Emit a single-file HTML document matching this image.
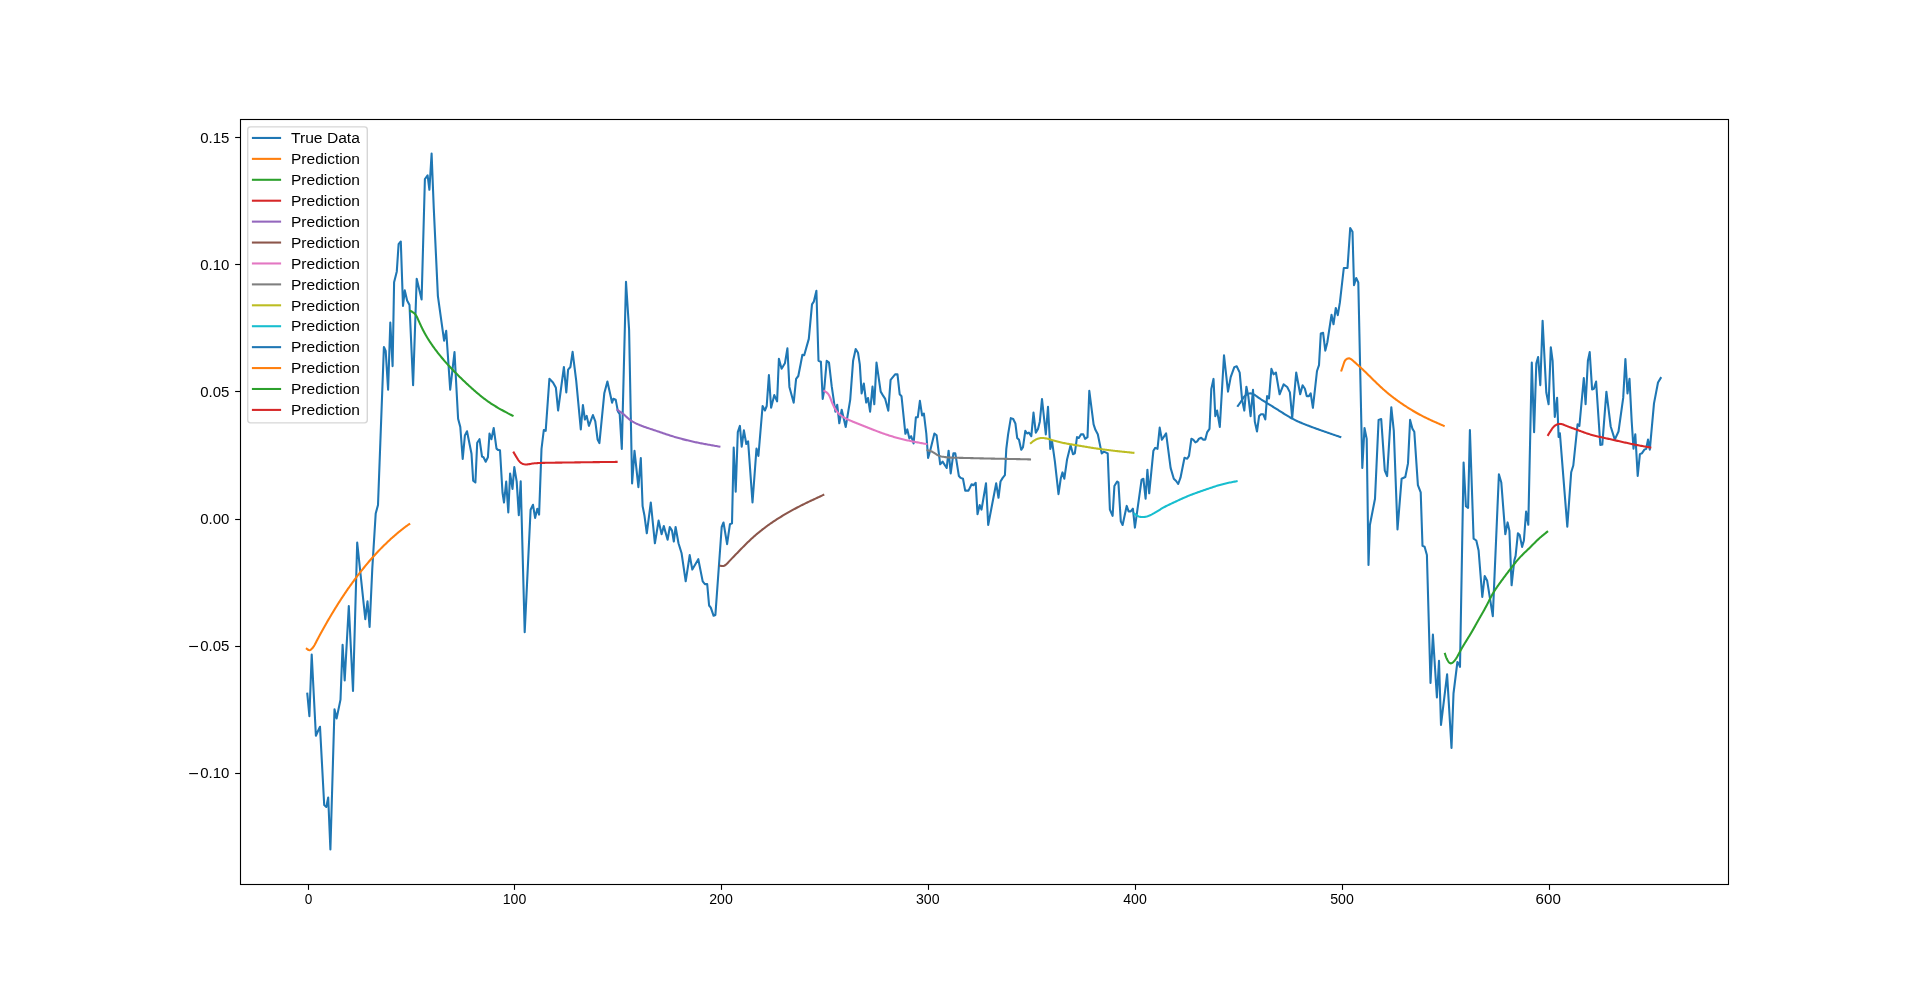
<!DOCTYPE html>
<html><head><meta charset="utf-8"><style>
html,body{margin:0;padding:0;background:#fff;width:1920px;height:993px;overflow:hidden}
svg{display:block}
.t{font-family:"Liberation Sans",sans-serif;font-size:14px;fill:#000}
svg{will-change:transform}
</style></head><body>
<svg width="1920" height="993" viewBox="0 0 1920 993"><rect x="0" y="0" width="1920" height="993" fill="#ffffff"/><defs><clipPath id="ax"><rect x="240" y="119.16" width="1488" height="764.6"/></clipPath></defs><g clip-path="url(#ax)" fill="none" stroke-linejoin="round" stroke-linecap="square"><path d="M307.30,693.70 L309.40,716.10 L311.70,654.50 L315.90,735.80 L318.00,731.00 L320.00,726.80 L324.20,805.00 L326.30,807.00 L328.20,797.50 L330.40,849.50 L334.50,709.30 L336.60,718.50 L340.50,699.60 L342.60,644.80 L344.70,680.50 L348.80,606.00 L353.00,691.00 L357.20,542.50 L365.30,619.20 L367.50,601.30 L369.60,627.00 L372.30,568.50 L375.70,513.50 L378.00,505.00 L383.90,347.00 L385.70,351.00 L388.10,389.70 L390.30,322.60 L392.60,366.10 L394.10,282.30 L396.80,271.40 L398.60,244.20 L400.80,241.50 L403.00,305.90 L404.80,290.40 L407.10,300.40 L409.50,305.00 L413.10,385.10 L416.70,278.70 L421.60,299.50 L424.90,179.00 L427.60,175.30 L429.40,189.80 L431.60,153.60 L433.80,208.90 L437.90,296.10 L444.10,340.70 L446.20,330.80 L450.20,389.70 L454.50,352.10 L458.10,418.70 L460.30,427.00 L462.70,459.00 L464.90,435.40 L467.00,431.30 L471.50,453.80 L473.20,480.70 L475.40,482.50 L477.20,442.70 L479.50,439.20 L482.00,456.50 L483.50,457.20 L485.70,461.70 L487.90,457.20 L489.50,433.60 L491.40,439.20 L493.70,428.00 L496.50,448.60 L498.00,449.90 L500.00,450.20 L502.50,492.50 L504.00,502.50 L506.20,481.60 L508.30,512.40 L510.10,473.50 L512.50,488.90 L514.30,467.10 L516.70,481.60 L518.80,515.20 L520.70,481.30 L524.70,632.10 L530.60,509.70 L533.00,504.80 L535.10,517.90 L537.30,508.80 L539.10,514.60 L541.50,449.00 L543.80,430.00 L545.70,430.90 L549.40,378.80 L553.00,382.40 L555.90,387.80 L558.10,410.50 L563.90,367.00 L566.30,392.40 L568.10,369.70 L570.40,367.00 L572.60,351.90 L576.20,380.60 L580.80,429.50 L582.90,405.00 L584.90,419.50 L586.70,415.90 L588.90,425.90 L592.90,415.00 L595.30,421.40 L597.60,439.50 L599.40,443.10 L604.30,393.30 L607.40,381.50 L612.10,402.70 L613.40,398.70 L615.70,399.60 L617.90,411.40 L619.70,414.10 L621.80,449.00 L626.00,281.80 L629.10,329.80 L632.10,483.50 L634.50,450.80 L638.40,487.10 L640.80,458.10 L642.60,506.10 L644.40,515.20 L646.80,533.30 L650.80,502.50 L654.90,543.30 L658.60,520.60 L661.60,534.20 L663.80,526.10 L667.60,539.70 L669.80,527.00 L672.00,530.60 L673.80,541.50 L675.60,527.00 L678.50,543.30 L681.60,553.30 L685.70,581.30 L689.70,555.10 L692.30,569.60 L698.30,559.20 L702.70,581.40 L704.90,584.10 L707.20,584.10 L709.10,605.50 L710.80,607.70 L713.60,615.80 L715.40,615.00 L721.70,527.00 L723.50,522.50 L727.10,544.20 L729.90,524.30 L732.00,523.40 L733.70,447.50 L735.70,491.70 L737.80,432.20 L739.90,425.90 L741.70,446.70 L743.90,430.40 L746.30,444.00 L748.10,441.30 L752.50,502.50 L756.50,448.50 L758.40,456.00 L762.60,406.00 L764.90,410.50 L766.70,406.00 L768.90,375.10 L771.10,407.80 L774.30,395.10 L777.10,401.40 L778.90,358.80 L781.60,368.80 L784.90,363.30 L787.40,348.30 L789.40,386.90 L793.70,402.70 L796.10,378.80 L798.30,376.00 L800.60,364.30 L802.40,354.80 L804.20,355.20 L808.80,338.90 L812.00,304.40 L813.80,301.70 L816.40,290.80 L818.50,360.80 L820.90,361.70 L822.70,398.90 L824.10,390.70 L826.70,360.80 L829.00,362.60 L831.70,386.20 L835.40,411.60 L837.20,404.70 L839.30,423.30 L841.70,409.80 L845.70,427.00 L850.20,399.80 L853.10,360.80 L855.70,349.00 L858.00,352.70 L859.80,364.40 L861.60,393.40 L863.80,383.50 L866.20,402.50 L868.00,398.00 L870.10,411.60 L872.50,386.60 L874.30,404.30 L876.50,362.60 L880.70,391.60 L883.40,396.20 L885.20,398.90 L888.30,410.70 L890.60,379.80 L895.10,374.40 L897.50,374.40 L899.70,394.30 L901.50,396.20 L905.40,433.80 L907.30,429.40 L909.40,438.40 L911.20,436.20 L913.60,443.50 L915.90,417.20 L917.80,417.20 L919.90,400.90 L922.10,415.40 L923.90,413.60 L926.30,433.50 L928.10,458.00 L930.40,449.80 L934.40,433.50 L936.60,435.30 L940.20,464.30 L942.60,461.60 L946.70,468.00 L948.60,450.70 L950.70,473.40 L953.40,453.40 L955.30,453.40 L958.90,476.10 L960.70,477.90 L963.00,478.80 L965.20,490.60 L968.50,490.60 L971.60,484.30 L973.40,485.20 L975.70,482.80 L977.50,514.20 L979.70,505.10 L981.50,509.60 L986.00,483.30 L988.20,525.00 L996.20,483.30 L998.50,497.80 L1000.50,481.50 L1002.70,477.90 L1004.90,475.20 L1006.30,448.90 L1008.10,434.40 L1010.80,418.10 L1013.20,419.00 L1015.40,423.50 L1017.20,438.00 L1019.00,439.80 L1021.20,449.80 L1023.00,447.10 L1025.30,430.80 L1027.10,433.50 L1028.90,432.60 L1031.30,436.20 L1033.50,412.60 L1035.80,432.60 L1038.00,428.90 L1039.80,421.70 L1042.00,399.00 L1045.80,434.40 L1048.00,406.80 L1050.30,448.90 L1052.10,441.60 L1054.90,461.60 L1058.50,494.20 L1060.70,478.80 L1062.50,472.40 L1064.30,478.80 L1067.00,459.80 L1070.60,445.30 L1073.00,454.30 L1074.80,453.40 L1077.00,437.10 L1078.80,438.00 L1080.90,434.40 L1083.30,434.40 L1085.10,438.90 L1087.50,437.10 L1089.30,390.90 L1093.60,424.40 L1095.40,429.80 L1097.80,434.30 L1101.70,453.40 L1103.90,451.60 L1107.70,453.40 L1109.90,509.60 L1112.60,515.90 L1114.40,486.00 L1117.10,481.50 L1118.40,482.40 L1120.80,521.40 L1122.60,525.00 L1126.70,505.90 L1128.60,511.40 L1130.70,511.40 L1132.90,508.70 L1134.90,527.70 L1141.60,479.70 L1143.40,478.80 L1145.60,498.70 L1147.40,469.70 L1149.20,493.30 L1153.40,450.70 L1155.20,447.90 L1157.50,448.80 L1159.70,427.60 L1161.90,439.80 L1166.10,433.40 L1170.60,467.90 L1173.80,478.80 L1176.10,481.00 L1178.20,484.00 L1180.50,477.70 L1184.50,457.80 L1187.20,458.70 L1189.00,455.90 L1191.40,438.70 L1193.20,439.60 L1195.40,442.40 L1197.20,441.40 L1199.00,438.70 L1201.20,437.80 L1203.00,439.60 L1205.30,439.60 L1207.10,432.40 L1209.50,428.80 L1211.30,388.90 L1213.50,378.90 L1215.30,416.10 L1217.10,410.60 L1219.80,426.90 L1224.00,355.30 L1228.00,391.60 L1230.70,377.10 L1234.30,367.10 L1236.70,366.20 L1239.70,372.60 L1242.10,399.80 L1244.30,410.60 L1246.40,386.70 L1248.30,396.10 L1250.60,416.10 L1253.00,389.80 L1254.80,421.50 L1257.00,431.50 L1259.10,416.10 L1261.00,414.30 L1263.30,414.30 L1265.30,419.50 L1267.10,396.10 L1269.00,398.50 L1271.40,368.90 L1273.60,374.30 L1275.90,372.50 L1279.60,394.30 L1283.60,384.30 L1287.20,387.00 L1289.90,392.40 L1292.20,417.80 L1296.20,372.50 L1300.20,394.30 L1302.60,385.20 L1304.90,388.80 L1306.70,396.10 L1308.90,396.10 L1310.70,393.30 L1312.90,407.80 L1317.00,371.00 L1319.00,365.20 L1320.80,333.40 L1323.10,332.80 L1325.30,350.60 L1327.30,342.50 L1331.50,314.80 L1333.50,324.30 L1335.80,308.00 L1337.80,315.20 L1339.90,302.40 L1343.80,268.00 L1347.50,268.00 L1350.20,228.10 L1352.50,231.80 L1354.00,285.20 L1356.20,278.00 L1358.30,282.50 L1362.30,467.90 L1364.50,428.00 L1366.70,438.90 L1368.50,565.00 L1369.90,525.00 L1375.00,498.70 L1378.60,419.90 L1381.20,419.00 L1384.80,470.60 L1387.10,476.10 L1391.30,407.20 L1393.80,430.80 L1397.50,529.50 L1401.60,478.80 L1405.30,477.00 L1408.00,463.40 L1410.10,419.90 L1412.50,428.90 L1414.30,431.70 L1417.90,485.10 L1420.70,492.40 L1422.50,545.90 L1424.60,546.80 L1426.90,555.00 L1430.50,683.00 L1432.90,634.60 L1436.90,697.50 L1439.00,660.90 L1441.00,724.90 L1447.10,674.40 L1451.50,747.90 L1453.50,693.50 L1457.40,662.00 L1458.70,663.60 L1460.00,666.90 L1463.60,462.60 L1465.90,506.10 L1468.10,507.90 L1469.90,430.00 L1473.60,538.70 L1476.30,540.50 L1478.60,550.50 L1482.30,597.00 L1484.70,576.00 L1487.10,580.40 L1492.80,616.10 L1498.90,474.40 L1501.30,482.50 L1505.30,534.20 L1507.60,522.40 L1509.40,530.60 L1511.60,585.30 L1514.30,560.50 L1515.60,555.90 L1517.90,533.30 L1519.70,535.10 L1522.10,546.90 L1523.90,540.50 L1526.10,511.50 L1528.30,524.80 L1531.80,362.60 L1534.10,432.30 L1536.30,363.50 L1538.10,357.10 L1540.30,385.20 L1542.60,320.90 L1546.30,392.50 L1548.60,404.30 L1550.80,347.20 L1552.60,360.80 L1554.80,416.90 L1557.10,397.90 L1558.60,436.90 L1559.90,433.30 L1567.30,526.60 L1571.20,472.20 L1573.30,465.50 L1577.60,424.20 L1579.40,426.00 L1583.80,378.00 L1585.60,404.30 L1587.90,360.80 L1589.70,352.10 L1592.10,389.40 L1593.90,388.80 L1596.10,381.60 L1600.30,445.00 L1602.30,444.60 L1606.40,391.70 L1610.70,426.50 L1614.80,439.60 L1618.50,431.50 L1623.20,397.90 L1625.40,359.00 L1627.50,393.40 L1629.50,378.90 L1631.70,421.50 L1633.50,448.70 L1635.30,434.20 L1637.70,475.90 L1639.90,454.10 L1642.00,453.20 L1644.40,449.60 L1646.20,448.70 L1648.00,439.60 L1649.80,449.60 L1654.00,403.40 L1658.00,382.50 L1660.70,378.00" stroke="#1f77b4" stroke-width="2.08"/><path d="M306.80,648.80 L307.68,649.50 L308.57,650.02 L309.47,650.20 L310.37,649.92 L311.25,649.31 L312.04,648.55 L312.74,647.76 L313.36,646.95 L313.91,646.11 L314.41,645.26 L314.89,644.40 L315.35,643.52 L315.82,642.64 L316.29,641.75 L316.76,640.86 L317.22,639.96 L317.69,639.07 L318.17,638.17 L318.64,637.27 L319.11,636.37 L319.59,635.48 L320.07,634.59 L320.56,633.71 L321.04,632.82 L321.53,631.94 L322.01,631.06 L322.50,630.18 L322.99,629.30 L323.48,628.42 L323.97,627.53 L324.46,626.65 L324.96,625.77 L325.45,624.90 L325.95,624.02 L326.45,623.14 L326.95,622.26 L327.45,621.39 L327.96,620.52 L328.47,619.64 L328.98,618.77 L329.49,617.91 L330.00,617.04 L330.52,616.17 L331.04,615.31 L331.56,614.44 L332.08,613.58 L332.60,612.71 L333.12,611.85 L333.64,610.99 L334.17,610.13 L334.69,609.26 L335.22,608.40 L335.75,607.54 L336.28,606.69 L336.81,605.83 L337.34,604.97 L337.88,604.12 L338.42,603.27 L338.96,602.42 L339.51,601.57 L340.06,600.72 L340.61,599.88 L341.16,599.04 L341.72,598.19 L342.27,597.35 L342.83,596.51 L343.39,595.67 L343.94,594.82 L344.49,593.98 L345.05,593.14 L345.61,592.30 L346.17,591.46 L346.74,590.63 L347.31,589.80 L347.89,588.97 L348.47,588.15 L349.06,587.33 L349.65,586.51 L350.24,585.69 L350.83,584.87 L351.42,584.06 L352.01,583.24 L352.61,582.42 L353.20,581.61 L353.79,580.79 L354.39,579.98 L354.98,579.16 L355.58,578.35 L356.18,577.54 L356.78,576.73 L357.39,575.93 L358.00,575.12 L358.62,574.32 L359.24,573.53 L359.86,572.73 L360.49,571.94 L361.12,571.16 L361.75,570.37 L362.38,569.58 L363.02,568.80 L363.65,568.02 L364.29,567.23 L364.93,566.45 L365.56,565.67 L366.20,564.89 L366.84,564.11 L367.49,563.33 L368.13,562.56 L368.78,561.79 L369.44,561.02 L370.09,560.25 L370.76,559.49 L371.42,558.74 L372.10,557.98 L372.77,557.24 L373.45,556.49 L374.13,555.75 L374.82,555.01 L375.50,554.26 L376.19,553.52 L376.87,552.78 L377.56,552.05 L378.25,551.31 L378.94,550.57 L379.63,549.84 L380.33,549.11 L381.03,548.38 L381.73,547.66 L382.44,546.95 L383.16,546.24 L383.89,545.54 L384.62,544.84 L385.35,544.15 L386.09,543.46 L386.82,542.77 L387.55,542.07 L388.28,541.37 L389.01,540.67 L389.73,539.98 L390.47,539.28 L391.21,538.60 L391.96,537.92 L392.72,537.26 L393.48,536.60 L394.24,535.94 L395.01,535.28 L395.77,534.62 L396.54,533.97 L397.30,533.31 L398.07,532.66 L398.85,532.01 L399.63,531.37 L400.41,530.73 L401.20,530.10 L401.99,529.47 L402.78,528.85 L403.57,528.23 L404.37,527.61 L405.18,527.00 L405.99,526.40 L406.80,525.81 L407.63,525.23 L408.46,524.66 L409.30,524.10" stroke="#ff7f0e" stroke-width="2.08"/><path d="M410.30,310.80 L411.22,311.28 L412.11,311.77 L412.98,312.30 L413.79,312.88 L414.53,313.53 L415.20,314.25 L415.80,315.05 L416.34,315.90 L416.83,316.79 L417.29,317.72 L417.72,318.66 L418.15,319.61 L418.57,320.55 L418.99,321.49 L419.41,322.42 L419.83,323.34 L420.25,324.26 L420.67,325.18 L421.10,326.09 L421.53,327.00 L421.96,327.90 L422.40,328.80 L422.84,329.69 L423.30,330.58 L423.76,331.47 L424.23,332.35 L424.70,333.23 L425.19,334.11 L425.69,334.98 L426.19,335.85 L426.70,336.72 L427.22,337.58 L427.75,338.44 L428.29,339.30 L428.83,340.15 L429.38,341.00 L429.93,341.85 L430.49,342.69 L431.06,343.53 L431.63,344.37 L432.21,345.20 L432.79,346.03 L433.38,346.85 L433.97,347.67 L434.57,348.49 L435.17,349.30 L435.77,350.11 L436.38,350.92 L436.99,351.72 L437.61,352.52 L438.23,353.31 L438.86,354.10 L439.48,354.89 L440.12,355.68 L440.76,356.46 L441.40,357.23 L442.04,358.01 L442.69,358.78 L443.35,359.55 L444.00,360.31 L444.66,361.07 L445.33,361.83 L446.00,362.59 L446.67,363.34 L447.34,364.09 L448.02,364.83 L448.71,365.58 L449.39,366.32 L450.08,367.05 L450.77,367.79 L451.46,368.52 L452.16,369.25 L452.86,369.98 L453.56,370.70 L454.26,371.43 L454.97,372.15 L455.68,372.87 L456.39,373.58 L457.10,374.30 L457.81,375.01 L458.53,375.72 L459.24,376.43 L459.96,377.14 L460.68,377.85 L461.40,378.55 L462.13,379.25 L462.85,379.95 L463.58,380.65 L464.31,381.35 L465.04,382.04 L465.77,382.74 L466.51,383.43 L467.25,384.12 L467.99,384.80 L468.73,385.49 L469.47,386.17 L470.22,386.85 L470.97,387.52 L471.72,388.20 L472.47,388.87 L473.23,389.54 L473.98,390.21 L474.74,390.88 L475.51,391.54 L476.27,392.20 L477.04,392.86 L477.81,393.51 L478.59,394.16 L479.37,394.80 L480.15,395.44 L480.93,396.08 L481.72,396.71 L482.51,397.34 L483.31,397.96 L484.11,398.57 L484.91,399.18 L485.72,399.79 L486.53,400.38 L487.35,400.98 L488.17,401.56 L488.99,402.14 L489.82,402.71 L490.66,403.27 L491.50,403.83 L492.34,404.38 L493.19,404.92 L494.04,405.46 L494.90,405.98 L495.76,406.51 L496.63,407.02 L497.50,407.54 L498.37,408.04 L499.24,408.55 L500.12,409.04 L501.00,409.54 L501.88,410.02 L502.77,410.51 L503.65,410.99 L504.54,411.47 L505.43,411.95 L506.33,412.42 L507.22,412.89 L508.11,413.37 L509.01,413.83 L509.91,414.30 L510.80,414.77 L511.70,415.23 L512.60,415.70" stroke="#2ca02c" stroke-width="2.08"/><path d="M513.75,452.50 L514.26,453.37 L514.77,454.24 L515.28,455.11 L515.80,455.98 L516.32,456.85 L516.86,457.72 L517.40,458.60 L517.96,459.47 L518.55,460.33 L519.17,461.15 L519.84,461.91 L520.58,462.60 L521.39,463.19 L522.29,463.67 L523.25,464.04 L524.25,464.29 L525.26,464.42 L526.28,464.45 L527.29,464.39 L528.30,464.26 L529.31,464.10 L530.32,463.92 L531.32,463.74 L532.33,463.58 L533.35,463.45 L534.36,463.34 L535.37,463.25 L536.38,463.18 L537.39,463.12 L538.41,463.07 L539.42,463.02 L540.43,462.98 L541.45,462.95 L542.46,462.91 L543.48,462.88 L544.49,462.86 L545.51,462.83 L546.52,462.81 L547.54,462.78 L548.55,462.76 L549.57,462.75 L550.58,462.73 L551.60,462.71 L552.62,462.70 L553.63,462.69 L554.65,462.67 L555.66,462.66 L556.68,462.65 L557.70,462.64 L558.71,462.63 L559.73,462.62 L560.74,462.61 L561.76,462.59 L562.78,462.58 L563.79,462.57 L564.81,462.56 L565.82,462.54 L566.84,462.53 L567.85,462.52 L568.87,462.50 L569.89,462.49 L570.90,462.47 L571.92,462.46 L572.93,462.44 L573.95,462.43 L574.96,462.41 L575.98,462.40 L576.99,462.38 L578.01,462.37 L579.02,462.35 L580.04,462.34 L581.06,462.32 L582.07,462.31 L583.09,462.29 L584.10,462.28 L585.12,462.27 L586.13,462.25 L587.15,462.24 L588.16,462.22 L589.18,462.21 L590.19,462.20 L591.21,462.18 L592.23,462.17 L593.24,462.16 L594.26,462.15 L595.27,462.13 L596.29,462.12 L597.30,462.11 L598.32,462.10 L599.33,462.09 L600.35,462.07 L601.37,462.06 L602.38,462.05 L603.40,462.04 L604.41,462.03 L605.43,462.02 L606.44,462.01 L607.46,462.00 L608.47,461.98 L609.49,461.97 L610.51,461.96 L611.52,461.95 L612.54,461.94 L613.55,461.93 L614.57,461.92 L615.58,461.91 L616.60,461.90" stroke="#d62728" stroke-width="2.08"/><path d="M617.40,409.90 L618.26,410.45 L619.11,411.01 L619.96,411.57 L620.80,412.14 L621.62,412.74 L622.43,413.35 L623.23,413.98 L624.00,414.64 L624.77,415.31 L625.53,415.99 L626.28,416.68 L627.04,417.36 L627.80,418.04 L628.57,418.70 L629.35,419.35 L630.15,419.97 L630.97,420.57 L631.82,421.13 L632.68,421.67 L633.56,422.18 L634.45,422.67 L635.36,423.13 L636.28,423.58 L637.21,424.01 L638.14,424.42 L639.08,424.82 L640.02,425.21 L640.97,425.58 L641.92,425.95 L642.87,426.31 L643.83,426.66 L644.79,427.00 L645.75,427.34 L646.71,427.67 L647.67,427.99 L648.63,428.31 L649.60,428.63 L650.56,428.95 L651.53,429.27 L652.50,429.59 L653.46,429.90 L654.43,430.22 L655.39,430.55 L656.35,430.87 L657.32,431.20 L658.28,431.52 L659.24,431.85 L660.20,432.18 L661.17,432.51 L662.13,432.84 L663.09,433.16 L664.06,433.49 L665.02,433.82 L665.98,434.14 L666.95,434.46 L667.91,434.78 L668.88,435.10 L669.85,435.41 L670.82,435.72 L671.78,436.03 L672.76,436.33 L673.73,436.63 L674.70,436.92 L675.68,437.21 L676.65,437.50 L677.63,437.78 L678.61,438.05 L679.59,438.33 L680.57,438.60 L681.55,438.86 L682.54,439.12 L683.52,439.38 L684.50,439.63 L685.49,439.88 L686.48,440.12 L687.47,440.36 L688.46,440.60 L689.45,440.83 L690.44,441.06 L691.43,441.29 L692.42,441.51 L693.41,441.73 L694.41,441.95 L695.40,442.16 L696.40,442.37 L697.39,442.57 L698.39,442.78 L699.39,442.98 L700.38,443.17 L701.38,443.37 L702.38,443.56 L703.38,443.75 L704.38,443.94 L705.38,444.13 L706.38,444.31 L707.38,444.49 L708.38,444.67 L709.38,444.85 L710.38,445.03 L711.38,445.21 L712.38,445.39 L713.39,445.56 L714.39,445.74 L715.39,445.91 L716.39,446.08 L717.39,446.25 L718.40,446.43 L719.40,446.60" stroke="#9467bd" stroke-width="2.08"/><path d="M720.20,565.70 L721.25,565.88 L722.27,565.99 L723.26,565.96 L724.19,565.73 L725.06,565.29 L725.88,564.70 L726.67,564.00 L727.42,563.23 L728.16,562.43 L728.89,561.65 L729.61,560.87 L730.33,560.12 L731.03,559.37 L731.74,558.63 L732.44,557.90 L733.13,557.18 L733.83,556.47 L734.52,555.75 L735.21,555.04 L735.90,554.34 L736.59,553.63 L737.28,552.92 L737.98,552.20 L738.67,551.48 L739.37,550.76 L740.07,550.04 L740.78,549.32 L741.48,548.59 L742.19,547.87 L742.90,547.14 L743.62,546.42 L744.33,545.70 L745.05,544.97 L745.77,544.25 L746.50,543.53 L747.23,542.82 L747.96,542.10 L748.70,541.39 L749.43,540.69 L750.18,539.98 L750.92,539.29 L751.67,538.60 L752.42,537.91 L753.18,537.23 L753.94,536.55 L754.70,535.88 L755.47,535.22 L756.24,534.55 L757.01,533.90 L757.79,533.25 L758.57,532.60 L759.35,531.96 L760.14,531.32 L760.93,530.69 L761.73,530.06 L762.53,529.44 L763.33,528.82 L764.13,528.20 L764.94,527.59 L765.76,526.98 L766.57,526.38 L767.39,525.78 L768.21,525.19 L769.04,524.60 L769.87,524.02 L770.70,523.44 L771.54,522.86 L772.37,522.29 L773.22,521.72 L774.06,521.15 L774.91,520.59 L775.75,520.03 L776.61,519.48 L777.46,518.93 L778.32,518.39 L779.18,517.85 L780.04,517.31 L780.90,516.77 L781.77,516.24 L782.64,515.72 L783.51,515.19 L784.38,514.68 L785.25,514.16 L786.13,513.65 L787.01,513.14 L787.89,512.63 L788.77,512.13 L789.66,511.63 L790.54,511.14 L791.43,510.65 L792.32,510.16 L793.21,509.67 L794.10,509.19 L795.00,508.71 L795.89,508.24 L796.79,507.76 L797.69,507.29 L798.59,506.83 L799.49,506.36 L800.40,505.90 L801.30,505.44 L802.21,504.99 L803.12,504.54 L804.03,504.09 L804.94,503.64 L805.85,503.19 L806.76,502.75 L807.67,502.31 L808.59,501.87 L809.50,501.43 L810.42,500.99 L811.34,500.56 L812.25,500.12 L813.17,499.69 L814.09,499.26 L815.01,498.83 L815.93,498.40 L816.85,497.98 L817.77,497.55 L818.69,497.12 L819.61,496.70 L820.53,496.27 L821.46,495.85 L822.38,495.42 L823.30,495.00" stroke="#8c564b" stroke-width="2.08"/><path d="M824.40,391.00 L825.28,391.53 L826.14,392.09 L826.94,392.70 L827.67,393.38 L828.31,394.13 L828.86,394.96 L829.35,395.85 L829.79,396.78 L830.19,397.74 L830.57,398.72 L830.93,399.69 L831.30,400.66 L831.67,401.61 L832.05,402.56 L832.45,403.49 L832.85,404.41 L833.27,405.33 L833.71,406.23 L834.17,407.12 L834.66,408.01 L835.18,408.89 L835.72,409.75 L836.29,410.59 L836.89,411.41 L837.53,412.21 L838.19,412.98 L838.90,413.71 L839.63,414.40 L840.41,415.05 L841.21,415.67 L842.04,416.25 L842.89,416.80 L843.76,417.33 L844.65,417.83 L845.55,418.32 L846.46,418.78 L847.38,419.23 L848.30,419.67 L849.22,420.09 L850.15,420.51 L851.08,420.91 L852.01,421.31 L852.95,421.70 L853.88,422.08 L854.82,422.45 L855.76,422.83 L856.70,423.20 L857.65,423.56 L858.59,423.93 L859.53,424.30 L860.47,424.67 L861.41,425.04 L862.36,425.41 L863.30,425.79 L864.24,426.16 L865.18,426.54 L866.12,426.92 L867.06,427.29 L868.00,427.67 L868.94,428.05 L869.88,428.43 L870.82,428.80 L871.76,429.18 L872.70,429.55 L873.65,429.92 L874.59,430.29 L875.54,430.65 L876.48,431.02 L877.43,431.37 L878.38,431.73 L879.33,432.08 L880.28,432.43 L881.23,432.78 L882.19,433.12 L883.14,433.46 L884.10,433.79 L885.06,434.12 L886.02,434.45 L886.98,434.77 L887.94,435.09 L888.90,435.40 L889.87,435.70 L890.84,436.00 L891.81,436.30 L892.78,436.59 L893.75,436.88 L894.72,437.16 L895.70,437.44 L896.67,437.71 L897.65,437.97 L898.63,438.24 L899.61,438.49 L900.59,438.75 L901.57,438.99 L902.56,439.24 L903.54,439.48 L904.53,439.71 L905.52,439.94 L906.51,440.16 L907.49,440.39 L908.48,440.60 L909.47,440.82 L910.47,441.02 L911.46,441.23 L912.45,441.43 L913.44,441.63 L914.44,441.82 L915.43,442.01 L916.43,442.20 L917.42,442.39 L918.42,442.57 L919.42,442.76 L920.41,442.94 L921.41,443.12 L922.41,443.30 L923.41,443.47 L924.40,443.65 L925.40,443.82 L926.40,444.00" stroke="#e377c2" stroke-width="2.08"/><path d="M927.50,450.30 L928.51,450.53 L929.50,450.77 L930.48,451.06 L931.43,451.40 L932.35,451.82 L933.24,452.31 L934.10,452.85 L934.96,453.42 L935.81,453.99 L936.68,454.54 L937.56,455.03 L938.48,455.47 L939.43,455.84 L940.41,456.15 L941.40,456.42 L942.40,456.65 L943.41,456.84 L944.42,457.01 L945.44,457.15 L946.45,457.28 L947.47,457.38 L948.48,457.47 L949.50,457.54 L950.52,457.60 L951.53,457.65 L952.55,457.69 L953.57,457.72 L954.59,457.75 L955.61,457.77 L956.63,457.78 L957.65,457.80 L958.67,457.82 L959.69,457.84 L960.70,457.86 L961.72,457.88 L962.74,457.91 L963.76,457.93 L964.78,457.95 L965.80,457.98 L966.82,458.00 L967.84,458.03 L968.86,458.05 L969.88,458.08 L970.89,458.10 L971.91,458.13 L972.93,458.16 L973.95,458.18 L974.97,458.21 L975.99,458.24 L977.01,458.26 L978.03,458.29 L979.05,458.32 L980.07,458.34 L981.08,458.37 L982.10,458.39 L983.12,458.41 L984.14,458.44 L985.16,458.46 L986.18,458.48 L987.20,458.50 L988.22,458.53 L989.24,458.55 L990.26,458.57 L991.28,458.59 L992.29,458.61 L993.31,458.63 L994.33,458.65 L995.35,458.67 L996.37,458.69 L997.39,458.71 L998.41,458.73 L999.43,458.74 L1000.45,458.76 L1001.47,458.78 L1002.49,458.80 L1003.50,458.82 L1004.52,458.84 L1005.54,458.86 L1006.56,458.88 L1007.58,458.90 L1008.60,458.92 L1009.62,458.94 L1010.64,458.96 L1011.66,458.99 L1012.68,459.01 L1013.70,459.03 L1014.71,459.05 L1015.73,459.07 L1016.75,459.10 L1017.77,459.12 L1018.79,459.14 L1019.81,459.16 L1020.83,459.19 L1021.85,459.21 L1022.87,459.23 L1023.89,459.26 L1024.90,459.28 L1025.92,459.31 L1026.94,459.33 L1027.96,459.35 L1028.98,459.38 L1030.00,459.40" stroke="#7f7f7f" stroke-width="2.08"/><path d="M1030.90,443.10 L1031.67,442.45 L1032.46,441.80 L1033.25,441.18 L1034.07,440.59 L1034.93,440.04 L1035.82,439.55 L1036.74,439.12 L1037.70,438.74 L1038.67,438.44 L1039.67,438.21 L1040.67,438.05 L1041.68,437.98 L1042.69,437.98 L1043.70,438.05 L1044.71,438.18 L1045.71,438.35 L1046.71,438.56 L1047.70,438.80 L1048.68,439.05 L1049.66,439.32 L1050.64,439.60 L1051.61,439.88 L1052.57,440.17 L1053.54,440.46 L1054.51,440.75 L1055.47,441.03 L1056.44,441.30 L1057.42,441.56 L1058.40,441.82 L1059.37,442.06 L1060.36,442.29 L1061.34,442.51 L1062.33,442.72 L1063.32,442.93 L1064.31,443.13 L1065.30,443.32 L1066.30,443.51 L1067.30,443.69 L1068.29,443.87 L1069.29,444.04 L1070.29,444.21 L1071.29,444.38 L1072.29,444.55 L1073.29,444.72 L1074.29,444.88 L1075.29,445.05 L1076.29,445.22 L1077.29,445.38 L1078.28,445.55 L1079.28,445.72 L1080.28,445.89 L1081.28,446.06 L1082.27,446.23 L1083.27,446.40 L1084.27,446.56 L1085.26,446.73 L1086.26,446.90 L1087.26,447.06 L1088.25,447.23 L1089.25,447.39 L1090.25,447.55 L1091.25,447.71 L1092.25,447.87 L1093.24,448.02 L1094.24,448.18 L1095.24,448.33 L1096.24,448.47 L1097.24,448.62 L1098.24,448.76 L1099.24,448.91 L1100.24,449.05 L1101.25,449.18 L1102.25,449.32 L1103.25,449.45 L1104.25,449.59 L1105.26,449.72 L1106.26,449.84 L1107.26,449.97 L1108.27,450.09 L1109.27,450.22 L1110.28,450.34 L1111.28,450.46 L1112.28,450.57 L1113.29,450.69 L1114.29,450.81 L1115.30,450.92 L1116.30,451.03 L1117.31,451.14 L1118.31,451.25 L1119.32,451.36 L1120.32,451.47 L1121.33,451.57 L1122.34,451.68 L1123.34,451.78 L1124.35,451.89 L1125.35,451.99 L1126.36,452.09 L1127.36,452.19 L1128.37,452.30 L1129.38,452.40 L1130.38,452.50 L1131.39,452.60 L1132.39,452.70 L1133.40,452.80" stroke="#bcbd22" stroke-width="2.08"/><path d="M1134.40,513.75 L1135.20,514.38 L1136.01,514.99 L1136.85,515.54 L1137.74,516.02 L1138.68,516.40 L1139.65,516.69 L1140.65,516.89 L1141.68,517.01 L1142.71,517.04 L1143.73,517.00 L1144.75,516.89 L1145.75,516.71 L1146.73,516.47 L1147.70,516.18 L1148.66,515.84 L1149.60,515.47 L1150.53,515.06 L1151.44,514.63 L1152.34,514.18 L1153.23,513.70 L1154.12,513.21 L1154.99,512.70 L1155.86,512.18 L1156.72,511.66 L1157.58,511.12 L1158.44,510.58 L1159.30,510.05 L1160.15,509.51 L1161.02,508.98 L1161.88,508.46 L1162.76,507.95 L1163.64,507.45 L1164.52,506.97 L1165.41,506.50 L1166.31,506.03 L1167.21,505.58 L1168.12,505.13 L1169.03,504.69 L1169.94,504.25 L1170.85,503.82 L1171.77,503.39 L1172.69,502.97 L1173.61,502.54 L1174.52,502.12 L1175.44,501.70 L1176.36,501.27 L1177.28,500.84 L1178.19,500.42 L1179.11,499.99 L1180.03,499.57 L1180.94,499.14 L1181.86,498.72 L1182.78,498.31 L1183.70,497.89 L1184.63,497.48 L1185.55,497.08 L1186.48,496.68 L1187.41,496.29 L1188.34,495.90 L1189.28,495.52 L1190.22,495.15 L1191.16,494.78 L1192.10,494.42 L1193.04,494.06 L1193.99,493.71 L1194.94,493.36 L1195.88,493.01 L1196.84,492.67 L1197.79,492.33 L1198.74,491.99 L1199.69,491.66 L1200.65,491.33 L1201.60,491.00 L1202.56,490.67 L1203.52,490.34 L1204.47,490.01 L1205.43,489.68 L1206.39,489.35 L1207.34,489.02 L1208.30,488.69 L1209.26,488.37 L1210.21,488.04 L1211.17,487.71 L1212.13,487.39 L1213.09,487.07 L1214.05,486.75 L1215.01,486.44 L1215.97,486.13 L1216.94,485.83 L1217.90,485.54 L1218.87,485.25 L1219.84,484.97 L1220.81,484.69 L1221.78,484.43 L1222.76,484.18 L1223.74,483.93 L1224.72,483.69 L1225.70,483.46 L1226.69,483.24 L1227.67,483.02 L1228.66,482.81 L1229.65,482.60 L1230.64,482.40 L1231.63,482.20 L1232.63,482.01 L1233.62,481.82 L1234.61,481.63 L1235.61,481.44 L1236.60,481.25" stroke="#17becf" stroke-width="2.08"/><path d="M1237.90,405.90 L1238.50,405.08 L1239.09,404.26 L1239.68,403.43 L1240.27,402.60 L1240.84,401.76 L1241.40,400.92 L1241.95,400.06 L1242.49,399.19 L1243.04,398.33 L1243.61,397.49 L1244.22,396.68 L1244.89,395.91 L1245.63,395.21 L1246.45,394.59 L1247.34,394.08 L1248.29,393.70 L1249.30,393.47 L1250.33,393.40 L1251.36,393.48 L1252.35,393.72 L1253.29,394.09 L1254.17,394.58 L1255.03,395.15 L1255.86,395.75 L1256.70,396.36 L1257.53,396.96 L1258.37,397.55 L1259.21,398.12 L1260.06,398.69 L1260.91,399.25 L1261.76,399.81 L1262.61,400.35 L1263.47,400.90 L1264.33,401.43 L1265.18,401.97 L1266.04,402.50 L1266.90,403.03 L1267.77,403.56 L1268.63,404.09 L1269.49,404.62 L1270.35,405.15 L1271.21,405.68 L1272.07,406.21 L1272.93,406.75 L1273.80,407.29 L1274.66,407.82 L1275.52,408.36 L1276.38,408.90 L1277.24,409.44 L1278.10,409.99 L1278.96,410.53 L1279.82,411.07 L1280.68,411.61 L1281.54,412.16 L1282.40,412.70 L1283.26,413.25 L1284.12,413.79 L1284.98,414.33 L1285.84,414.87 L1286.71,415.40 L1287.58,415.93 L1288.45,416.46 L1289.32,416.97 L1290.20,417.48 L1291.08,417.98 L1291.97,418.47 L1292.86,418.95 L1293.76,419.42 L1294.67,419.88 L1295.58,420.33 L1296.49,420.77 L1297.41,421.19 L1298.34,421.62 L1299.27,422.03 L1300.20,422.43 L1301.13,422.83 L1302.07,423.23 L1303.01,423.61 L1303.96,423.99 L1304.90,424.37 L1305.85,424.74 L1306.80,425.11 L1307.75,425.48 L1308.70,425.84 L1309.65,426.20 L1310.60,426.55 L1311.55,426.91 L1312.51,427.26 L1313.46,427.62 L1314.41,427.96 L1315.37,428.31 L1316.32,428.66 L1317.28,429.00 L1318.23,429.35 L1319.19,429.69 L1320.15,430.03 L1321.10,430.37 L1322.06,430.70 L1323.02,431.04 L1323.98,431.38 L1324.93,431.71 L1325.89,432.05 L1326.85,432.38 L1327.81,432.71 L1328.77,433.04 L1329.73,433.38 L1330.69,433.71 L1331.65,434.04 L1332.61,434.37 L1333.57,434.70 L1334.53,435.03 L1335.49,435.36 L1336.46,435.69 L1337.42,436.01 L1338.38,436.34 L1339.34,436.67 L1340.30,437.00" stroke="#1f77b4" stroke-width="2.08"/><path d="M1341.40,370.50 L1341.73,369.56 L1342.07,368.63 L1342.40,367.68 L1342.73,366.73 L1343.05,365.77 L1343.38,364.79 L1343.70,363.80 L1344.02,362.80 L1344.39,361.83 L1344.84,360.91 L1345.41,360.08 L1346.13,359.38 L1347.01,358.83 L1348.00,358.49 L1349.00,358.39 L1349.96,358.58 L1350.86,359.01 L1351.71,359.60 L1352.53,360.28 L1353.33,361.00 L1354.12,361.70 L1354.90,362.39 L1355.66,363.07 L1356.42,363.74 L1357.17,364.41 L1357.91,365.07 L1358.64,365.73 L1359.38,366.39 L1360.11,367.06 L1360.83,367.72 L1361.56,368.40 L1362.29,369.08 L1363.02,369.76 L1363.74,370.45 L1364.47,371.15 L1365.19,371.85 L1365.92,372.55 L1366.65,373.26 L1367.37,373.97 L1368.10,374.68 L1368.82,375.39 L1369.55,376.10 L1370.27,376.82 L1370.99,377.53 L1371.72,378.25 L1372.44,378.96 L1373.17,379.67 L1373.89,380.39 L1374.62,381.10 L1375.35,381.81 L1376.07,382.51 L1376.80,383.22 L1377.53,383.92 L1378.26,384.62 L1378.99,385.31 L1379.73,386.01 L1380.46,386.70 L1381.20,387.38 L1381.95,388.06 L1382.69,388.74 L1383.44,389.42 L1384.20,390.09 L1384.95,390.75 L1385.71,391.41 L1386.48,392.07 L1387.25,392.72 L1388.03,393.36 L1388.80,394.00 L1389.59,394.64 L1390.38,395.27 L1391.17,395.90 L1391.97,396.52 L1392.77,397.14 L1393.57,397.75 L1394.38,398.36 L1395.19,398.96 L1396.00,399.56 L1396.82,400.16 L1397.64,400.75 L1398.47,401.33 L1399.29,401.92 L1400.12,402.50 L1400.95,403.07 L1401.79,403.64 L1402.63,404.21 L1403.47,404.78 L1404.31,405.34 L1405.15,405.90 L1406.00,406.45 L1406.85,407.00 L1407.70,407.55 L1408.55,408.09 L1409.41,408.63 L1410.27,409.16 L1411.13,409.69 L1411.99,410.22 L1412.86,410.74 L1413.73,411.25 L1414.60,411.76 L1415.47,412.27 L1416.35,412.77 L1417.23,413.27 L1418.11,413.76 L1419.00,414.24 L1419.89,414.72 L1420.78,415.19 L1421.67,415.66 L1422.57,416.13 L1423.47,416.58 L1424.37,417.04 L1425.28,417.48 L1426.18,417.93 L1427.09,418.37 L1428.00,418.80 L1428.92,419.23 L1429.83,419.66 L1430.75,420.09 L1431.67,420.51 L1432.59,420.93 L1433.51,421.34 L1434.43,421.76 L1435.35,422.17 L1436.28,422.57 L1437.20,422.98 L1438.13,423.39 L1439.06,423.79 L1439.99,424.19 L1440.91,424.60 L1441.84,425.00 L1442.77,425.40 L1443.70,425.80" stroke="#ff7f0e" stroke-width="2.08"/><path d="M1445.00,653.90 L1445.29,654.80 L1445.59,655.71 L1445.91,656.63 L1446.27,657.57 L1446.69,658.54 L1447.16,659.53 L1447.71,660.56 L1448.34,661.55 L1449.03,662.42 L1449.77,663.06 L1450.57,663.38 L1451.40,663.31 L1452.26,662.89 L1453.10,662.22 L1453.91,661.38 L1454.67,660.50 L1455.35,659.61 L1455.96,658.74 L1456.52,657.88 L1457.04,657.03 L1457.52,656.18 L1457.99,655.33 L1458.44,654.48 L1458.89,653.62 L1459.34,652.75 L1459.81,651.88 L1460.30,651.00 L1460.79,650.11 L1461.29,649.23 L1461.79,648.34 L1462.31,647.45 L1462.82,646.57 L1463.34,645.69 L1463.87,644.81 L1464.39,643.94 L1464.92,643.07 L1465.45,642.21 L1465.98,641.35 L1466.52,640.49 L1467.05,639.63 L1467.58,638.77 L1468.11,637.92 L1468.64,637.06 L1469.17,636.20 L1469.69,635.34 L1470.21,634.48 L1470.73,633.62 L1471.25,632.75 L1471.76,631.88 L1472.27,631.01 L1472.77,630.14 L1473.27,629.26 L1473.77,628.38 L1474.27,627.50 L1474.76,626.62 L1475.26,625.74 L1475.75,624.85 L1476.25,623.97 L1476.74,623.09 L1477.23,622.20 L1477.73,621.32 L1478.22,620.43 L1478.72,619.55 L1479.22,618.67 L1479.72,617.79 L1480.22,616.91 L1480.72,616.04 L1481.23,615.16 L1481.73,614.28 L1482.23,613.40 L1482.74,612.53 L1483.24,611.65 L1483.74,610.77 L1484.23,609.89 L1484.72,609.01 L1485.21,608.12 L1485.70,607.23 L1486.18,606.34 L1486.65,605.45 L1487.12,604.55 L1487.58,603.65 L1488.03,602.75 L1488.49,601.85 L1488.94,600.94 L1489.39,600.03 L1489.84,599.13 L1490.29,598.23 L1490.75,597.33 L1491.22,596.43 L1491.70,595.54 L1492.19,594.66 L1492.69,593.78 L1493.21,592.91 L1493.73,592.05 L1494.27,591.19 L1494.81,590.34 L1495.36,589.49 L1495.92,588.65 L1496.49,587.81 L1497.06,586.97 L1497.64,586.14 L1498.23,585.32 L1498.82,584.49 L1499.41,583.67 L1500.00,582.85 L1500.59,582.03 L1501.19,581.21 L1501.79,580.40 L1502.39,579.59 L1502.99,578.77 L1503.60,577.96 L1504.20,577.15 L1504.81,576.34 L1505.41,575.54 L1506.02,574.73 L1506.63,573.92 L1507.24,573.11 L1507.85,572.31 L1508.46,571.50 L1509.07,570.70 L1509.69,569.89 L1510.30,569.09 L1510.92,568.29 L1511.54,567.49 L1512.16,566.69 L1512.78,565.90 L1513.41,565.11 L1514.04,564.32 L1514.68,563.53 L1515.32,562.74 L1515.96,561.96 L1516.61,561.19 L1517.26,560.41 L1517.92,559.65 L1518.59,558.88 L1519.26,558.13 L1519.94,557.38 L1520.63,556.64 L1521.32,555.90 L1522.03,555.18 L1522.74,554.46 L1523.46,553.75 L1524.18,553.05 L1524.91,552.35 L1525.65,551.65 L1526.38,550.96 L1527.12,550.27 L1527.85,549.57 L1528.59,548.87 L1529.32,548.17 L1530.04,547.46 L1530.76,546.75 L1531.47,546.03 L1532.18,545.31 L1532.89,544.59 L1533.60,543.87 L1534.30,543.15 L1535.02,542.43 L1535.73,541.72 L1536.45,541.01 L1537.18,540.31 L1537.92,539.62 L1538.66,538.93 L1539.41,538.26 L1540.17,537.59 L1540.94,536.93 L1541.71,536.28 L1542.48,535.63 L1543.26,534.98 L1544.05,534.34 L1544.83,533.70 L1545.62,533.07 L1546.41,532.43 L1547.20,531.80" stroke="#2ca02c" stroke-width="2.08"/><path d="M1548.10,435.00 L1548.63,434.14 L1549.16,433.28 L1549.70,432.42 L1550.24,431.57 L1550.79,430.71 L1551.35,429.85 L1551.91,429.00 L1552.51,428.17 L1553.14,427.37 L1553.82,426.62 L1554.57,425.94 L1555.39,425.33 L1556.29,424.81 L1557.25,424.39 L1558.24,424.09 L1559.25,423.93 L1560.26,423.91 L1561.25,424.03 L1562.23,424.27 L1563.21,424.59 L1564.17,424.96 L1565.13,425.35 L1566.09,425.74 L1567.04,426.11 L1567.99,426.48 L1568.94,426.85 L1569.89,427.20 L1570.84,427.56 L1571.79,427.91 L1572.73,428.26 L1573.68,428.60 L1574.63,428.95 L1575.57,429.29 L1576.52,429.64 L1577.46,429.99 L1578.41,430.34 L1579.36,430.69 L1580.31,431.04 L1581.26,431.39 L1582.21,431.75 L1583.16,432.09 L1584.11,432.44 L1585.07,432.78 L1586.03,433.11 L1586.99,433.44 L1587.95,433.76 L1588.92,434.07 L1589.89,434.37 L1590.86,434.66 L1591.84,434.93 L1592.82,435.20 L1593.80,435.46 L1594.78,435.71 L1595.76,435.95 L1596.75,436.19 L1597.73,436.42 L1598.72,436.65 L1599.71,436.88 L1600.70,437.10 L1601.69,437.32 L1602.68,437.54 L1603.67,437.76 L1604.66,437.98 L1605.65,438.20 L1606.64,438.42 L1607.63,438.64 L1608.62,438.87 L1609.61,439.09 L1610.59,439.31 L1611.58,439.53 L1612.57,439.75 L1613.56,439.98 L1614.55,440.20 L1615.54,440.42 L1616.53,440.64 L1617.52,440.87 L1618.51,441.09 L1619.49,441.31 L1620.48,441.54 L1621.47,441.76 L1622.46,441.98 L1623.45,442.20 L1624.44,442.42 L1625.43,442.64 L1626.42,442.85 L1627.41,443.07 L1628.40,443.28 L1629.39,443.49 L1630.39,443.70 L1631.38,443.91 L1632.37,444.12 L1633.36,444.32 L1634.36,444.52 L1635.35,444.72 L1636.35,444.92 L1637.34,445.11 L1638.34,445.30 L1639.33,445.49 L1640.33,445.68 L1641.32,445.87 L1642.32,446.05 L1643.32,446.23 L1644.31,446.42 L1645.31,446.60 L1646.31,446.78 L1647.31,446.96 L1648.30,447.14 L1649.30,447.32 L1650.30,447.50" stroke="#d62728" stroke-width="2.08"/></g><rect x="240.5" y="119.5" width="1488" height="765" fill="none" stroke="#000" stroke-width="1.11"/><line x1="308.5" y1="885" x2="308.5" y2="889.86" stroke="#000" stroke-width="1.11"/><text x="308.5" y="903.9" text-anchor="middle" class="t" textLength="7.6" lengthAdjust="spacingAndGlyphs">0</text><line x1="514.5" y1="885" x2="514.5" y2="889.86" stroke="#000" stroke-width="1.11"/><text x="514.5" y="903.9" text-anchor="middle" class="t" textLength="23.6" lengthAdjust="spacingAndGlyphs">100</text><line x1="721.5" y1="885" x2="721.5" y2="889.86" stroke="#000" stroke-width="1.11"/><text x="721.0" y="903.9" text-anchor="middle" class="t" textLength="23.6" lengthAdjust="spacingAndGlyphs">200</text><line x1="928.5" y1="885" x2="928.5" y2="889.86" stroke="#000" stroke-width="1.11"/><text x="927.8" y="903.9" text-anchor="middle" class="t" textLength="23.6" lengthAdjust="spacingAndGlyphs">300</text><line x1="1135.5" y1="885" x2="1135.5" y2="889.86" stroke="#000" stroke-width="1.11"/><text x="1135.0" y="903.9" text-anchor="middle" class="t" textLength="23.6" lengthAdjust="spacingAndGlyphs">400</text><line x1="1342.5" y1="885" x2="1342.5" y2="889.86" stroke="#000" stroke-width="1.11"/><text x="1342.0" y="903.9" text-anchor="middle" class="t" textLength="23.6" lengthAdjust="spacingAndGlyphs">500</text><line x1="1549.5" y1="885" x2="1549.5" y2="889.86" stroke="#000" stroke-width="1.11"/><text x="1548.2" y="903.9" text-anchor="middle" class="t" textLength="25.2" lengthAdjust="spacingAndGlyphs">600</text><line x1="240" y1="137.5" x2="235.14" y2="137.5" stroke="#000" stroke-width="1.11"/><text x="229.4" y="143.0" text-anchor="end" class="t" textLength="29.2" lengthAdjust="spacingAndGlyphs">0.15</text><line x1="240" y1="264.5" x2="235.14" y2="264.5" stroke="#000" stroke-width="1.11"/><text x="229.4" y="269.8" text-anchor="end" class="t" textLength="29.2" lengthAdjust="spacingAndGlyphs">0.10</text><line x1="240" y1="391.5" x2="235.14" y2="391.5" stroke="#000" stroke-width="1.11"/><text x="229.4" y="396.9" text-anchor="end" class="t" textLength="29.2" lengthAdjust="spacingAndGlyphs">0.05</text><line x1="240" y1="519.5" x2="235.14" y2="519.5" stroke="#000" stroke-width="1.11"/><text x="229.4" y="524.0" text-anchor="end" class="t" textLength="29.2" lengthAdjust="spacingAndGlyphs">0.00</text><line x1="240" y1="646.5" x2="235.14" y2="646.5" stroke="#000" stroke-width="1.11"/><text x="229.4" y="650.9" text-anchor="end" class="t" textLength="29.2" lengthAdjust="spacingAndGlyphs">0.05</text><rect x="189.2" y="645.95" width="8.8" height="1.1" fill="#000"/><line x1="240" y1="773.5" x2="235.14" y2="773.5" stroke="#000" stroke-width="1.11"/><text x="229.4" y="778.0" text-anchor="end" class="t" textLength="29.2" lengthAdjust="spacingAndGlyphs">0.10</text><rect x="189.2" y="773.05" width="8.8" height="1.1" fill="#000"/><rect x="247.7" y="126.85" width="119.6" height="296.05" rx="2.8" ry="2.8" fill="#ffffff" fill-opacity="0.8" stroke="#cccccc" stroke-opacity="0.8" stroke-width="1.39"/><line x1="251.9" y1="137.95" x2="281.1" y2="137.95" stroke="#1f77b4" stroke-width="2.08"/><text x="291" y="143.15" class="t" textLength="68.9" lengthAdjust="spacingAndGlyphs">True Data</text><line x1="251.9" y1="158.87" x2="281.1" y2="158.87" stroke="#ff7f0e" stroke-width="2.08"/><text x="291" y="164.07" class="t" textLength="69.0" lengthAdjust="spacingAndGlyphs">Prediction</text><line x1="251.9" y1="179.79" x2="281.1" y2="179.79" stroke="#2ca02c" stroke-width="2.08"/><text x="291" y="184.99" class="t" textLength="69.0" lengthAdjust="spacingAndGlyphs">Prediction</text><line x1="251.9" y1="200.71" x2="281.1" y2="200.71" stroke="#d62728" stroke-width="2.08"/><text x="291" y="205.91" class="t" textLength="69.0" lengthAdjust="spacingAndGlyphs">Prediction</text><line x1="251.9" y1="221.63" x2="281.1" y2="221.63" stroke="#9467bd" stroke-width="2.08"/><text x="291" y="226.83" class="t" textLength="69.0" lengthAdjust="spacingAndGlyphs">Prediction</text><line x1="251.9" y1="242.55" x2="281.1" y2="242.55" stroke="#8c564b" stroke-width="2.08"/><text x="291" y="247.75" class="t" textLength="69.0" lengthAdjust="spacingAndGlyphs">Prediction</text><line x1="251.9" y1="263.47" x2="281.1" y2="263.47" stroke="#e377c2" stroke-width="2.08"/><text x="291" y="268.67" class="t" textLength="69.0" lengthAdjust="spacingAndGlyphs">Prediction</text><line x1="251.9" y1="284.39" x2="281.1" y2="284.39" stroke="#7f7f7f" stroke-width="2.08"/><text x="291" y="289.59" class="t" textLength="69.0" lengthAdjust="spacingAndGlyphs">Prediction</text><line x1="251.9" y1="305.31" x2="281.1" y2="305.31" stroke="#bcbd22" stroke-width="2.08"/><text x="291" y="310.51" class="t" textLength="69.0" lengthAdjust="spacingAndGlyphs">Prediction</text><line x1="251.9" y1="326.23" x2="281.1" y2="326.23" stroke="#17becf" stroke-width="2.08"/><text x="291" y="331.43" class="t" textLength="69.0" lengthAdjust="spacingAndGlyphs">Prediction</text><line x1="251.9" y1="347.15" x2="281.1" y2="347.15" stroke="#1f77b4" stroke-width="2.08"/><text x="291" y="352.35" class="t" textLength="69.0" lengthAdjust="spacingAndGlyphs">Prediction</text><line x1="251.9" y1="368.07" x2="281.1" y2="368.07" stroke="#ff7f0e" stroke-width="2.08"/><text x="291" y="373.27" class="t" textLength="69.0" lengthAdjust="spacingAndGlyphs">Prediction</text><line x1="251.9" y1="388.99" x2="281.1" y2="388.99" stroke="#2ca02c" stroke-width="2.08"/><text x="291" y="394.19" class="t" textLength="69.0" lengthAdjust="spacingAndGlyphs">Prediction</text><line x1="251.9" y1="409.91" x2="281.1" y2="409.91" stroke="#d62728" stroke-width="2.08"/><text x="291" y="415.11" class="t" textLength="69.0" lengthAdjust="spacingAndGlyphs">Prediction</text></svg>
</body></html>
